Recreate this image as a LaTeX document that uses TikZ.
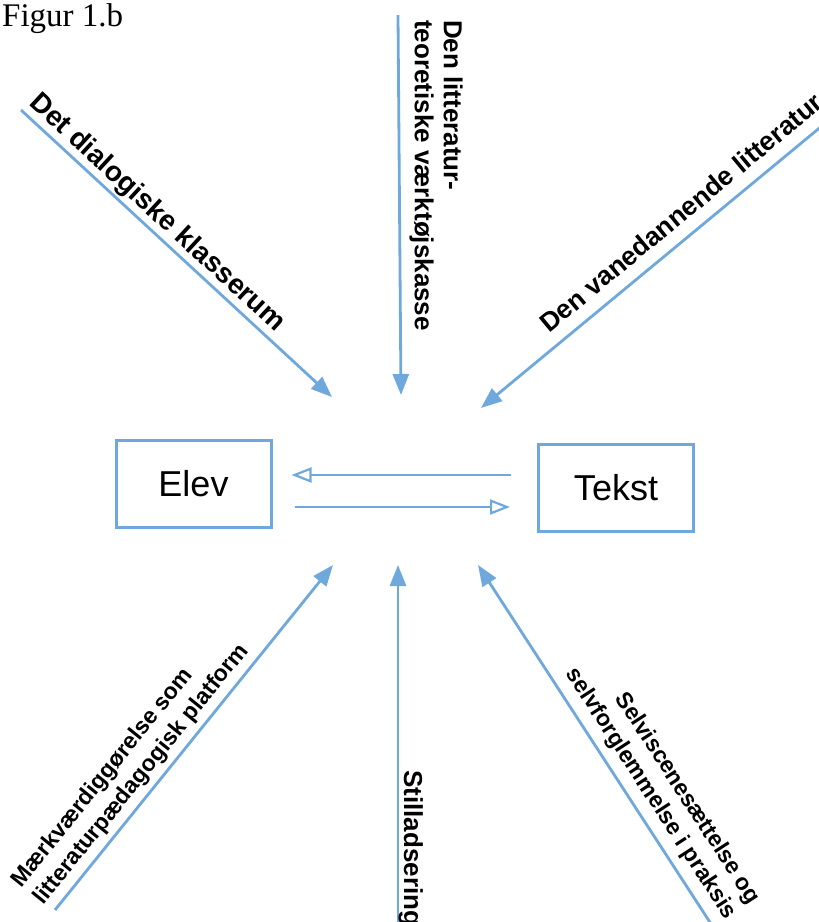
\documentclass[tikz,border=0pt]{standalone}
\usepackage{fontspec}
\setmainfont{Liberation Sans}
\newfontfamily\figfont{Liberation Serif}
\usetikzlibrary{arrows.meta}
\definecolor{arrblue}{RGB}{111,168,220}
\begin{document}
\begin{tikzpicture}[x=1pt,y=-1pt,
  conn/.style={draw=arrblue, line width=2.8pt, -{Triangle[length=21pt,width=16pt]}},
  backarrow/.style={draw=arrblue, line width=2.8pt, -{Triangle[open,length=20pt,width=15pt,line width=2.2pt]}},
  box/.style={draw=arrblue, line width=3pt, minimum width=155pt, minimum height=87pt, inner sep=0pt, font=\fontsize{36}{40}\selectfont},
  lbl/.style={inner sep=0pt, font=\bfseries\fontsize{26}{29}\selectfont},
  lbls/.style={inner sep=0pt, font=\bfseries\fontsize{23}{28}\selectfont},
]
\useasboundingbox (0,0) rectangle (819,922);
\clip (0,0) rectangle (819,922);
\fill[white] (0,0) rectangle (819,922);

\node[inner sep=0pt, anchor=base west, font=\figfont\fontsize{33}{38}\selectfont] (fig) at (2,26) {Figur 1.b};

\node[box] (elev) at (193.5,484) {Elev};
\node[box] (tekst) at (616,488) {Tekst};

\draw[backarrow] ([shift={(-26,-13)}]tekst.west) -- ([shift={(19,-9)}]elev.east);
\draw[backarrow] ([shift={(22,23)}]elev.east) -- ([shift={(-27,19)}]tekst.west);

\coordinate (tlA) at (21,110);  \coordinate (tlB) at (332,397);
\coordinate (tvA) at (398,15);  \coordinate (tvB) at (401,395);
\coordinate (trA) at (840,111); \coordinate (trB) at (481,408);
\coordinate (blA) at (55,910);  \coordinate (blB) at (333,565);
\coordinate (bvA) at (398,930); \coordinate (bvB) at (398,565);
\coordinate (brA) at (715,930); \coordinate (brB) at (478,565);

\draw[conn] (tlA) -- (tlB);
\draw[conn] (tvA) -- (tvB);
\draw[conn] (trA) -- (trB);
\draw[conn] (blA) -- (blB);
\draw[conn] (bvA) -- (bvB);
\draw[conn] (brA) -- (brB);

\node[lbl, font=\bfseries\fontsize{28}{32}\selectfont, rotate=-42.7, anchor=base west] (ltl) at (28.2,104.4) {Det dialogiske klasserum};
\node[lbl, rotate=-90, anchor=north west, align=left] (ltv) at (463,20) {Den litteratur-\\teoretiske værktøjskasse};
\node[lbl, font=\bfseries\fontsize{26.5}{30}\selectfont, rotate=39.6, anchor=base west] (ltr) at (549,334) {Den vanedannende litteratur};
\node[lbls, rotate=51.1, anchor=south west, align=left] (lbl) at (47.5,909) {Mærkværdiggørelse som\\litteraturpædagogisk platform};
\node[lbl, rotate=-90, anchor=base west] (lbv) at (404,770) {Stilladsering};
\node[lbls, rotate=-57, anchor=south east, align=right] (lbr) at (721.6,923.4) {Selviscenesættelse og\\selvforglemmelse i praksis};
\end{tikzpicture}
\end{document}
